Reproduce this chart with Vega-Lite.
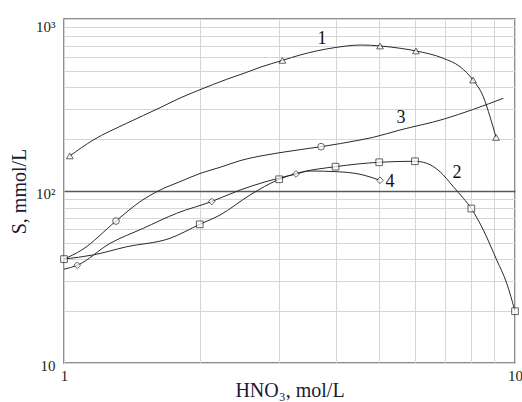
{
  "$schema": "https://vega.github.io/schema/vega-lite/v6.json",
  "width": 451,
  "height": 344,
  "autosize": "none",
  "padding": {"left": 64, "top": 19, "right": 7, "bottom": 39},
  "background": "white",
  "config": {
    "view": {"stroke": "#6a6a6a", "strokeWidth": 1.5},
    "axis": {"labelFont": "Liberation Serif", "titleFont": "Liberation Serif", "labelColor": "#222", "titleColor": "#1a1a3a", "titleFontWeight": "normal"}
  },
  "datasets": {
    "lines": [
      {"c": "1", "x": 1.03, "y": 159.8}, {"c": "1", "x": 1.161, "y": 197.9}, {"c": "1", "x": 1.377, "y": 247.6}, {"c": "1", "x": 1.633, "y": 305}, {"c": "1", "x": 1.808, "y": 347}, {"c": "1", "x": 2.002, "y": 388}, {"c": "1", "x": 2.295, "y": 446.1}, {"c": "1", "x": 2.542, "y": 490}, {"c": "1", "x": 2.72, "y": 523.8}, {"c": "1", "x": 3.054, "y": 575}, {"c": "1", "x": 3.337, "y": 617.6}, {"c": "1", "x": 3.975, "y": 681}, {"c": "1", "x": 4.556, "y": 706}, {"c": "1", "x": 5.019, "y": 697}, {"c": "1", "x": 5.56, "y": 676}, {"c": "1", "x": 6.032, "y": 652}, {"c": "1", "x": 6.934, "y": 591}, {"c": "1", "x": 7.552, "y": 528}, {"c": "1", "x": 8.069, "y": 442}, {"c": "1", "x": 8.507, "y": 353}, {"c": "1", "x": 8.804, "y": 270}, {"c": "1", "x": 9.076, "y": 205},
      {"c": "2", "x": 1, "y": 40.2}, {"c": "2", "x": 1.161, "y": 42.5}, {"c": "2", "x": 1.377, "y": 47.4}, {"c": "2", "x": 1.718, "y": 53.1}, {"c": "2", "x": 2, "y": 64}, {"c": "2", "x": 2.218, "y": 72.5}, {"c": "2", "x": 2.585, "y": 94.8}, {"c": "2", "x": 3, "y": 117}, {"c": "2", "x": 3.281, "y": 126.7}, {"c": "2", "x": 4, "y": 138.5}, {"c": "2", "x": 5, "y": 146.9}, {"c": "2", "x": 6, "y": 148.9}, {"c": "2", "x": 6.372, "y": 144.9}, {"c": "2", "x": 6.819, "y": 129.5}, {"c": "2", "x": 7.298, "y": 105.9}, {"c": "2", "x": 7.682, "y": 90.7}, {"c": "2", "x": 8, "y": 79.1}, {"c": "2", "x": 8.507, "y": 59.3}, {"c": "2", "x": 9.108, "y": 39.7}, {"c": "2", "x": 9.585, "y": 29.1}, {"c": "2", "x": 10, "y": 20},
      {"c": "3", "x": 1, "y": 40.2}, {"c": "3", "x": 1.095, "y": 45.4}, {"c": "3", "x": 1.304, "y": 66.9}, {"c": "3", "x": 1.474, "y": 86.6}, {"c": "3", "x": 1.633, "y": 101.3}, {"c": "3", "x": 1.808, "y": 113.3}, {"c": "3", "x": 2.002, "y": 126.4}, {"c": "3", "x": 2.218, "y": 137.3}, {"c": "3", "x": 2.457, "y": 150.1}, {"c": "3", "x": 3.013, "y": 167.1}, {"c": "3", "x": 3.715, "y": 181}, {"c": "3", "x": 4.533, "y": 197.9}, {"c": "3", "x": 4.852, "y": 205.3}, {"c": "3", "x": 5.56, "y": 226.3}, {"c": "3", "x": 6.934, "y": 261.2}, {"c": "3", "x": 8.091, "y": 298.5}, {"c": "3", "x": 9.42, "y": 345.9},
      {"c": "4", "x": 1, "y": 35.1}, {"c": "4", "x": 1.07, "y": 37}, {"c": "4", "x": 1.265, "y": 49.6}, {"c": "4", "x": 1.499, "y": 60.7}, {"c": "4", "x": 1.778, "y": 74.2}, {"c": "4", "x": 2.126, "y": 86.9}, {"c": "4", "x": 2.457, "y": 101.3}, {"c": "4", "x": 3.269, "y": 125.6}, {"c": "4", "x": 3.513, "y": 130.7}, {"c": "4", "x": 4.024, "y": 129.5}, {"c": "4", "x": 4.533, "y": 125.1}, {"c": "4", "x": 5.02, "y": 115.4}
    ],
    "pts": [
      {"c": "1", "x": 1.03, "y": 160}, {"c": "1", "x": 3.05, "y": 575}, {"c": "1", "x": 5.02, "y": 697}, {"c": "1", "x": 6.03, "y": 652}, {"c": "1", "x": 8.07, "y": 442}, {"c": "1", "x": 9.08, "y": 205},
      {"c": "2", "x": 1, "y": 40.2}, {"c": "2", "x": 2, "y": 64}, {"c": "2", "x": 3, "y": 117}, {"c": "2", "x": 4, "y": 138.5}, {"c": "2", "x": 5, "y": 146.9}, {"c": "2", "x": 6, "y": 148.9}, {"c": "2", "x": 8, "y": 79.1}, {"c": "2", "x": 10, "y": 20},
      {"c": "3", "x": 1.304, "y": 66.9}, {"c": "3", "x": 3.715, "y": 181},
      {"c": "4", "x": 1.07, "y": 37}, {"c": "4", "x": 2.126, "y": 86.9}, {"c": "4", "x": 3.269, "y": 125.6}, {"c": "4", "x": 5.02, "y": 115.4}
    ],
    "labs": [
      {"t": "1", "x": 3.734, "y": 765},
      {"t": "2", "x": 7.437, "y": 127.3},
      {"t": "3", "x": 5.587, "y": 265.7},
      {"t": "4", "x": 5.283, "y": 112.8}
    ]
  },
  "layer": [
    {
      "data": {"name": "lines"},
      "mark": {"type": "line", "interpolate": "monotone", "color": "#2a2a2a", "strokeWidth": 1, "clip": true},
      "encoding": {
        "x": {"field": "x", "type": "quantitative", "scale": {"type": "log", "domain": [1, 10], "nice": false},
          "axis": {"values": [1, 2, 3, 4, 5, 6, 7, 8, 9, 10], "labelExpr": "datum.value == 1 ? '1' : datum.value == 10 ? '10' : ''", "labelFont": "Liberation Serif", "titleFont": "Liberation Serif", "labelFlush": false, "labelFontSize": 15, "labelPadding": 5, "ticks": false, "domain": false, "gridColor": "#d6d6d6", "gridWidth": 1, "title": "HNO₃, mol/L", "titleFontSize": 20, "titlePadding": -3}},
        "y": {"field": "y", "type": "quantitative", "scale": {"type": "log", "domain": [10, 1000], "nice": false},
          "axis": {"values": [10, 20, 30, 40, 50, 60, 70, 80, 90, 100, 200, 300, 400, 500, 600, 700, 800, 900, 1000], "labelExpr": "datum.value == 1000 ? '10³' : datum.value == 100 ? '10²' : datum.value == 10 ? '10' : ''", "labelFont": "Liberation Serif", "titleFont": "Liberation Serif", "labelFontSize": 15, "labelPadding": 9, "labelOffset": {"condition": {"test": "datum.value == 1000", "value": 7}, "value": 2}, "ticks": false, "domain": false, "gridColor": {"condition": {"test": "datum.value == 100", "value": "#5a5a5a"}, "value": "#d6d6d6"}, "gridWidth": {"condition": {"test": "datum.value == 100", "value": 1.5}, "value": 1}, "title": "S, mmol/L", "titleFontSize": 20, "titlePadding": 6}},
        "detail": {"field": "c"}
      }
    },
    {
      "data": {"name": "pts"},
      "mark": {"type": "point", "filled": true, "fill": "white", "stroke": "#222", "strokeWidth": 1, "size": 45},
      "encoding": {
        "x": {"field": "x", "type": "quantitative"},
        "y": {"field": "y", "type": "quantitative"},
        "shape": {"field": "c", "type": "nominal", "scale": {"domain": ["1", "2", "3", "4"], "range": ["triangle-up", "square", "circle", "diamond"]}, "legend": null}
      }
    },
    {
      "data": {"name": "labs"},
      "mark": {"type": "text", "font": "Liberation Serif", "fontSize": 18, "color": "#111", "baseline": "middle", "align": "center"},
      "encoding": {
        "x": {"field": "x", "type": "quantitative"},
        "y": {"field": "y", "type": "quantitative"},
        "text": {"field": "t"}
      }
    }
  ]
}
